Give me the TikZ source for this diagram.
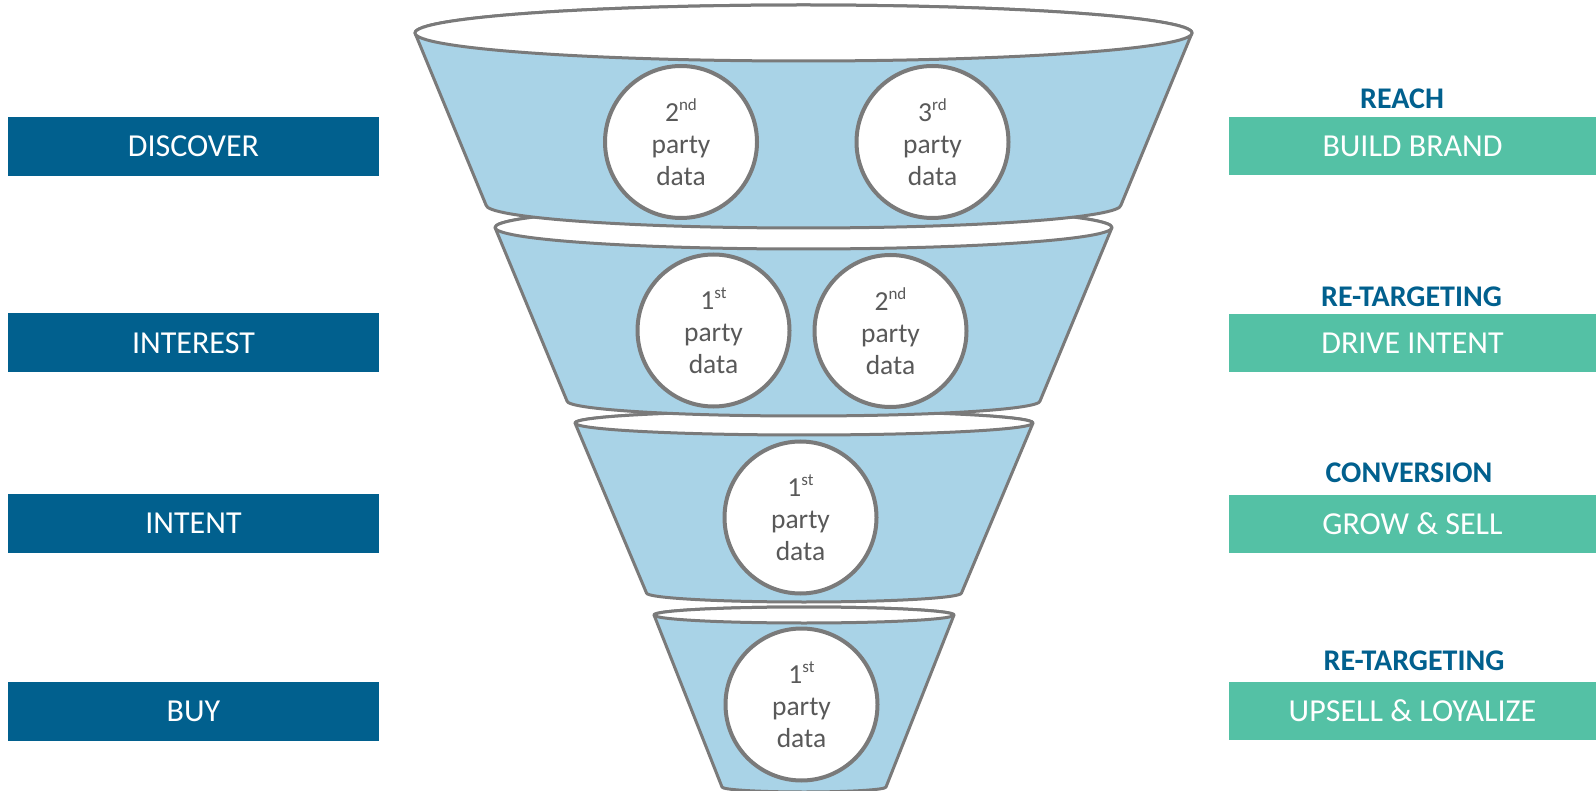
\documentclass[tikz,border=0pt]{standalone}
\usepackage{fontspec}
\setmainfont{Carlito}
\definecolor{stageblue}{HTML}{01608E}
\definecolor{goalgreen}{HTML}{54C1A5}
\definecolor{funnelblue}{HTML}{A9D3E7}
\definecolor{rimgray}{HTML}{7A7A7A}
\definecolor{txtgray}{HTML}{595959}

% small raised ordinal suffix (nd, rd, st)
\newcommand{\supx}[1]{\raisebox{0.40em}{\fontsize{17}{17}\selectfont #1}}

% one band of the funnel: cx, top y, top rx, top ry, bottom y, bottom rx, bottom ry
\newcommand{\funnelband}[7]{%
  \filldraw[rim, fill=funnelblue] ({#1-#6},{-#5})
    arc[start angle=180, end angle=360, x radius=#6, y radius=#7]
    -- ({#1+#3},{-#2})
    arc[start angle=0, end angle=180, x radius=#3, y radius=#4] -- cycle;
  \filldraw[rim, fill=white] (#1,-#2) ellipse[x radius=#3, y radius=#4];
}

\tikzset{
  stage/.style={fill=stageblue, text=white, minimum width=371pt, minimum height=59pt,
    inner sep=0pt, font=\fontsize{32}{38}\selectfont},
  goal/.style={fill=goalgreen, text=white, minimum width=367pt, minimum height=58pt,
    inner sep=0pt, font=\fontsize{32}{38}\selectfont},
  tactic/.style={text=stageblue, inner sep=0pt, font=\bfseries\fontsize{30}{36}\selectfont},
  src/.style={circle, draw=rimgray, line width=4pt, fill=white, minimum size=152pt,
    inner sep=0pt, text=txtgray, align=center, font=\fontsize{27.5}{32}\selectfont},
  rim/.style={draw=rimgray, line width=3pt, line join=round},
}

\begin{document}
\begin{tikzpicture}[x=1pt, y=1pt]
\fill[white] (0,0) rectangle (1596,-791);
\useasboundingbox (0,0) rectangle (1596,-791);

% funnel bands, narrowest first so each wider band overlaps the next rim
\funnelband{804}{615}{150}{8}{787}{82}{5}
\funnelband{804}{423}{229}{12}{593}{157.5}{9}
\funnelband{803.5}{227.5}{308.5}{21.5}{401}{236.5}{15}
\funnelband{803.5}{33}{388.5}{28}{205}{317.5}{23}

% data sources
\node[src] (s1a) at (681,-142) {2\supx{nd}\\party\\data};
\node[src] (s1b) at (932.5,-142) {3\supx{rd}\\party\\data};
\node[src] (s2a) at (713.5,-330.5) {1\supx{st}\\party\\data};
\node[src] (s2b) at (890.5,-331) {2\supx{nd}\\party\\data};
\node[src] (s3) at (800.5,-517.5) {1\supx{st}\\party\\data};
\node[src] (s4) at (801.5,-704.5) {1\supx{st}\\party\\data};

% customer stages
\node[stage] (discover) at (193.5,-146.5) {DISCOVER};
\node[stage] (interest) at (193.5,-343) {INTEREST};
\node[stage] (intent) at (193.5,-523.7) {INTENT};
\node[stage] (buy) at (193.5,-711) {BUY};

% marketing goals
\node[goal] (brand) at (1412.5,-146) {BUILD BRAND};
\node[goal] (drive) at (1412.5,-343) {DRIVE INTENT};
\node[goal] (grow) at (1412.5,-523.7) {GROW \& SELL};
\node[goal] (upsell) at (1412.5,-710.5) {UPSELL \& LOYALIZE};

% tactics
\node[tactic] (reach) at (1402,-99) {REACH};
\node[tactic] (retarget1) at (1411.5,-296.5) {RE-TARGETING};
\node[tactic] (conversion) at (1409,-473) {CONVERSION};
\node[tactic] (retarget2) at (1414,-660.5) {RE-TARGETING};
\end{tikzpicture}
\end{document}
